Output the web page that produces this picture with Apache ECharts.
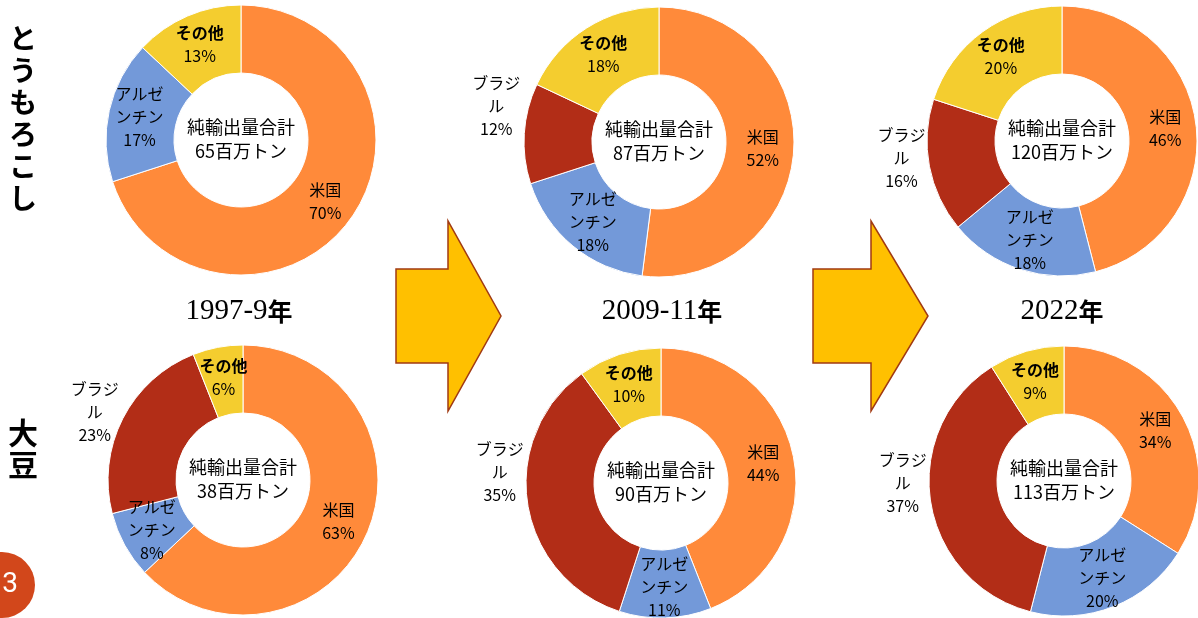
<!DOCTYPE html>
<html lang="ja">
<head>
<meta charset="utf-8">
<title>純輸出量シェア</title>
<script src="https://cdn.jsdelivr.net/npm/echarts@6/dist/echarts.min.js"></script>
<style>
  html, body { margin: 0; padding: 0; background: #fff; }
  #chart { width: 1198px; height: 618px; }
</style>
</head>
<body>
<div id="chart"></div>
<script>
// 純輸出量シェア（%）: 米国, アルゼンチン, ブラジル, その他
const countries = ['米国', 'アルゼンチン', 'ブラジル', 'その他'];
const periods = ['1997-9', '2009-11', '2022'];
const crops = ['とうもろこし', '大豆'];

const cornShare1997 = [70, 17, 0, 13];
const cornShare2009 = [52, 18, 12, 18];
const cornShare2022 = [46, 18, 16, 20];

const soyShare1997 = [63, 8, 23, 6];
const soyShare2009 = [44, 11, 35, 10];
const soyShare2022 = [34, 20, 37, 9];

// 純輸出量合計（百万トン）
const cornTotal = [65, 87, 120];
const soyTotal = [38, 90, 113];

const countryColors = ['#FF8A3A', '#7399D9', '#B22D17', '#F4CD2F'];
const FONT = '"Noto Sans CJK JP", "Noto Sans", sans-serif';

// donut layout per panel: centre, and vertical nudge of the outside ブラジル label
const cornPanels = [
  { center: [241, 140], shift: 0 },
  { center: [659, 142], shift: -28 },
  { center: [1062, 141], shift: -8 }
];
const soyPanels = [
  { center: [243, 480], shift: -7 },
  { center: [661, 483], shift: -32 },
  { center: [1064, 481], shift: -19 }
];
const yearLabelX = [239, 662, 1062];

function wrapName(n) {
  return n.length > 3 ? n.slice(0, 3) + '\n' + n.slice(3) : n;
}

const labelRich = {
  n: { fontFamily: FONT, fontSize: 16, lineHeight: 23, color: '#000', align: 'center' },
  b: { fontFamily: FONT, fontSize: 16, lineHeight: 23, color: '#000', fontWeight: 'bold', align: 'center' },
  v: { fontFamily: FONT, fontSize: 16, lineHeight: 23, color: '#000', align: 'center' }
};

function donut(shares, panel) {
  const data = shares
    .map((v, i) => ({
      name: countries[i],
      value: v,
      itemStyle: { color: countryColors[i] },
      label: countries[i] === 'ブラジル'
        ? { position: 'outside', distanceToLabelLine: 4 }
        : undefined
    }))
    .filter(d => d.value > 0);
  return {
    type: 'pie',
    center: panel.center,
    radius: [67, 135],
    startAngle: 90,
    clockwise: true,
    avoidLabelOverlap: false,
    silent: true,
    animation: false,
    itemStyle: { borderColor: '#ffffff', borderWidth: 1 },
    label: {
      show: true,
      position: 'inside',
      color: '#000',
      textBorderWidth: 0,
      formatter: p => {
        const style = p.name === 'その他' ? 'b' : 'n';
        return '{' + style + '|' + wrapName(p.name) + '}\n{v|' + p.value + '%}';
      },
      rich: labelRich
    },
    labelLine: { show: false, length: 0, length2: 0 },
    labelLayout: p => (data[p.dataIndex] && data[p.dataIndex].name === 'ブラジル')
      ? { dy: panel.shift } : {},
    data: data
  };
}

const cornShares = [cornShare1997, cornShare2009, cornShare2022];
const soyShares = [soyShare1997, soyShare2009, soyShare2022];

const series = [];
cornShares.forEach((s, i) => series.push(donut(s, cornPanels[i])));
soyShares.forEach((s, i) => series.push(donut(s, soyPanels[i])));

// centre captions and headings
const titles = [];
function centreCaption(total, panel) {
  return {
    text: '純輸出量合計\n' + total + '百万トン',
    left: panel.center[0],
    top: panel.center[1] - 1,
    textAlign: 'center',
    textVerticalAlign: 'middle',
    padding: 0,
    textStyle: { fontFamily: FONT, fontSize: 18, fontWeight: 'normal', color: '#000', lineHeight: 24 }
  };
}
cornTotal.forEach((t, i) => titles.push(centreCaption(t, cornPanels[i])));
soyTotal.forEach((t, i) => titles.push(centreCaption(t, soyPanels[i])));

periods.forEach((p, i) => titles.push({
  text: '{d|' + p + '}{y|年}',
  left: yearLabelX[i],
  top: 311,
  textAlign: 'center',
  textVerticalAlign: 'middle',
  padding: 0,
  textStyle: {
    fontWeight: 'normal',
    rich: {
      d: { fontFamily: '"Liberation Serif", "Times New Roman", serif', fontSize: 29, fontWeight: 'normal', color: '#000' },
      y: { fontFamily: FONT, fontSize: 25, fontWeight: 'bold', color: '#000' }
    }
  }
}));

const cropLabelY = [118, 449];
crops.forEach((c, i) => titles.push({
  text: c.split('').join('\n'),
  left: 23,
  top: cropLabelY[i],
  textAlign: 'center',
  textVerticalAlign: 'middle',
  padding: 0,
  textStyle: { fontFamily: FONT, fontSize: i === 0 ? 28 : 30, fontWeight: 'bold', color: '#000', lineHeight: 32 }
}));

// block arrows between the periods, and the page badge
function arrow(x0, xHead, xTip) {
  return {
    type: 'polygon',
    silent: true,
    shape: {
      points: [[x0, 269], [xHead, 269], [xHead, 221], [xTip, 316], [xHead, 411], [xHead, 363], [x0, 363]]
    },
    style: { fill: '#FFC000', stroke: '#A13A12', lineWidth: 1.5 }
  };
}

const graphics = [
  arrow(396, 448, 501),
  arrow(813, 871, 928),
  { type: 'circle', silent: true, shape: { cx: 2, cy: 585, r: 33 }, style: { fill: '#D2471B' } },
  {
    type: 'text', silent: true, x: 10, y: 585,
    style: {
      text: '3', fill: '#fff', align: 'center', verticalAlign: 'middle',
      font: '28px "Liberation Sans Narrow", "Roboto", sans-serif'
    }
  }
];

const chart = echarts.init(document.getElementById('chart'), null, { renderer: 'canvas' });
chart.setOption({
  backgroundColor: '#ffffff',
  animation: false,
  title: titles,
  series: series,
  graphic: graphics
});
</script>
</body>
</html>
